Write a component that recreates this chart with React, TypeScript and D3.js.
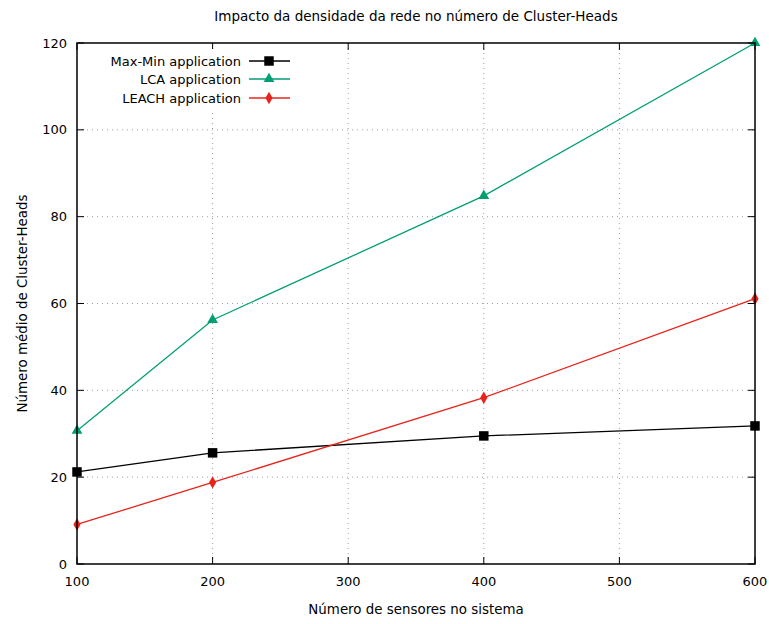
import { useEffect, useRef } from "react";
import * as d3 from "d3";

const sensors = [100, 200, 400, 600];
const maxMin = [21.2, 25.6, 29.5, 31.8];
const lca = [30.7, 56.2, 84.8, 120];
const leach = [9.1, 18.8, 38.3, 61.1];
const xTicks = [100, 200, 300, 400, 500, 600];
const yTicks = [0, 20, 40, 60, 80, 100, 120];

const series = [
  { name: "Max-Min application", values: maxMin, color: "#000000", symbol: d3.symbolSquare, size: 90 },
  { name: "LCA application", values: lca, color: "#009e73", symbol: d3.symbolTriangle, size: 50 },
  { name: "LEACH application", values: leach, color: "#e8231b", symbol: d3.symbolDiamond, size: 45 },
];

export default function App() {
  const svgRef = useRef<SVGSVGElement>(null);

  useEffect(() => {
    if (!svgRef.current) return;
    const svg = d3.select(svgRef.current);
    svg.selectAll("*").remove();

    const W = 769;
    const H = 624;
    const margin = { top: 43, right: 14, bottom: 60, left: 77 };
    const width = W - margin.left - margin.right;
    const height = H - margin.top - margin.bottom;
    const font = "'DejaVu Sans', Verdana, sans-serif";

    svg.attr("width", W).attr("height", H).style("font-family", font);
    svg.append("rect").attr("width", W).attr("height", H).attr("fill", "#fff");

    const g = svg.append("g").attr("transform", `translate(${margin.left},${margin.top})`);

    const x = d3.scaleLinear().domain([100, 600]).range([0, width]);
    const y = d3.scaleLinear().domain([0, 120]).range([height, 0]);

    // Gridlines (dotted)
    g.append("g")
      .selectAll("line")
      .data(xTicks.slice(1, -1))
      .join("line")
      .attr("x1", (d) => x(d))
      .attr("x2", (d) => x(d))
      .attr("y1", 0)
      .attr("y2", height)
      .attr("stroke", "#a0a0a0")
      .attr("stroke-width", 1)
      .attr("stroke-dasharray", "1,4");
    g.append("g")
      .selectAll("line")
      .data(yTicks.slice(1, -1))
      .join("line")
      .attr("x1", 0)
      .attr("x2", width)
      .attr("y1", (d) => y(d))
      .attr("y2", (d) => y(d))
      .attr("stroke", "#a0a0a0")
      .attr("stroke-width", 1)
      .attr("stroke-dasharray", "1,4");

    // Ticks on all four sides, pointing inward
    const tickLen = 7;
    const ticks = g.append("g").attr("stroke", "#000").attr("stroke-width", 1);
    xTicks.forEach((t) => {
      ticks.append("line").attr("x1", x(t)).attr("x2", x(t)).attr("y1", height).attr("y2", height - tickLen);
      ticks.append("line").attr("x1", x(t)).attr("x2", x(t)).attr("y1", 0).attr("y2", tickLen);
    });
    yTicks.forEach((t) => {
      ticks.append("line").attr("x1", 0).attr("x2", tickLen).attr("y1", y(t)).attr("y2", y(t));
      ticks.append("line").attr("x1", width).attr("x2", width - tickLen).attr("y1", y(t)).attr("y2", y(t));
    });

    // Tick labels
    g.append("g")
      .selectAll("text")
      .data(xTicks)
      .join("text")
      .attr("x", (d) => x(d))
      .attr("y", height + 22)
      .attr("text-anchor", "middle")
      .attr("font-size", 13)
      .attr("fill", "#000")
      .text((d) => d);
    g.append("g")
      .selectAll("text")
      .data(yTicks)
      .join("text")
      .attr("x", -10)
      .attr("y", (d) => y(d))
      .attr("dy", "0.35em")
      .attr("text-anchor", "end")
      .attr("font-size", 13)
      .attr("fill", "#000")
      .text((d) => d);

    // Legend background hides grid behind it
    g.append("rect")
      .attr("x", 22)
      .attr("y", 6)
      .attr("width", 200)
      .attr("height", 60)
      .attr("fill", "#fff");

    const line = d3
      .line<number>()
      .x((_, i) => x(sensors[i]))
      .y((d) => y(d));

    series.forEach((s) => {
      g.append("path")
        .datum(s.values)
        .attr("fill", "none")
        .attr("stroke", s.color)
        .attr("stroke-width", 1.3)
        .attr("d", line);
      g.append("g")
        .selectAll("path")
        .data(s.values)
        .join("path")
        .attr("transform", (d, i) => `translate(${x(sensors[i])},${y(d)})`)
        .attr("d", d3.symbol().type(s.symbol).size(s.size)())
        .attr("fill", s.color);
    });

    // Frame
    g.append("rect")
      .attr("width", width)
      .attr("height", height)
      .attr("fill", "none")
      .attr("stroke", "#000")
      .attr("stroke-width", 1.5);

    // Legend
    const legendRows = [18, 36, 55];
    series.forEach((s, i) => {
      const ly = legendRows[i];
      g.append("text")
        .attr("x", 164)
        .attr("y", ly)
        .attr("dy", "0.35em")
        .attr("text-anchor", "end")
        .attr("font-size", 13)
        .attr("fill", "#000")
        .text(s.name);
      g.append("line")
        .attr("x1", 172)
        .attr("x2", 213)
        .attr("y1", ly)
        .attr("y2", ly)
        .attr("stroke", s.color)
        .attr("stroke-width", 1.3);
      g.append("path")
        .attr("transform", `translate(192,${ly})`)
        .attr("d", d3.symbol().type(s.symbol).size(s.size)())
        .attr("fill", s.color);
    });

    // Title and axis labels
    svg.append("text")
      .attr("x", margin.left + width / 2)
      .attr("y", 21)
      .attr("text-anchor", "middle")
      .attr("font-size", 13.5)
      .text("Impacto da densidade da rede no número de Cluster-Heads");
    svg.append("text")
      .attr("x", margin.left + width / 2)
      .attr("y", 614)
      .attr("text-anchor", "middle")
      .attr("font-size", 13.4)
      .text("Número de sensores no sistema");
    svg.append("text")
      .attr("transform", `translate(27,${margin.top + height / 2}) rotate(-90)`)
      .attr("text-anchor", "middle")
      .attr("font-size", 13.4)
      .text("Número médio de Cluster-Heads");
  }, []);

  return (
    <svg
      ref={svgRef}
      style={{ display: "block", position: "absolute", left: 0, top: 0 }}
    />
  );
}
